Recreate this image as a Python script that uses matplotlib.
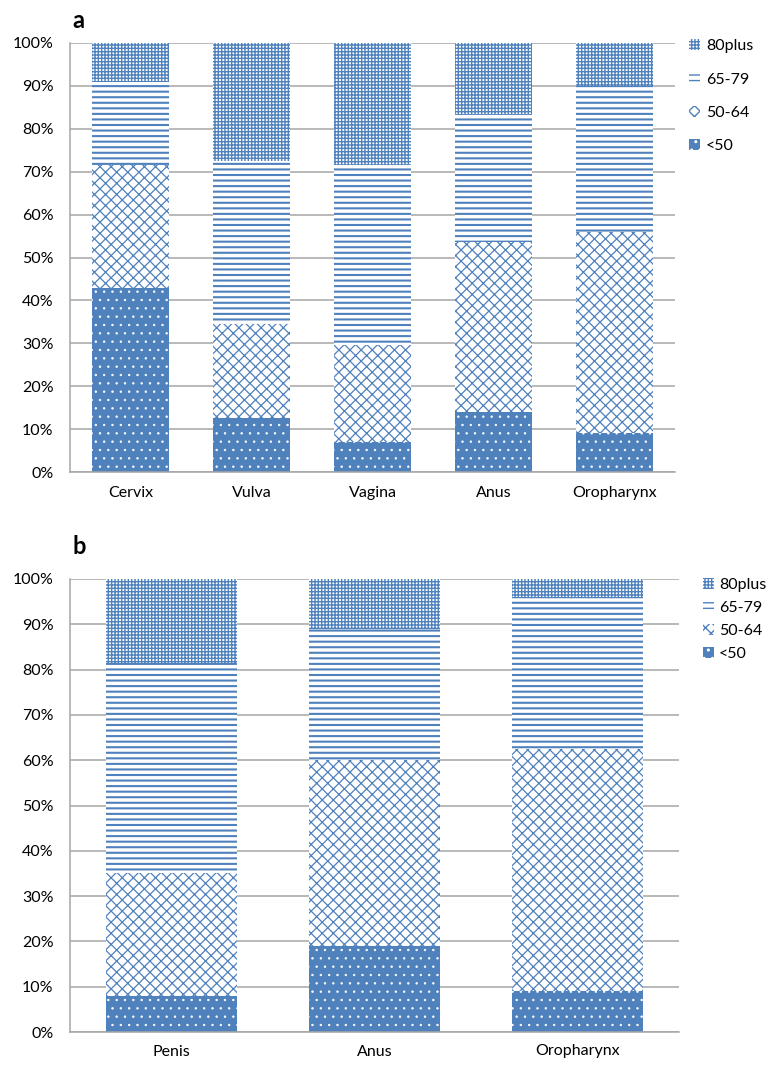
import numpy as np
import matplotlib
matplotlib.use('Agg')
import matplotlib.pyplot as plt
from matplotlib.ticker import PercentFormatter

plt.rcParams['font.family'] = ['Lato', 'DejaVu Sans']

age_groups = ['<50', '50-64', '65-79', '80plus']

# panel a - women
sites_a = ['Cervix', 'Vulva', 'Vagina', 'Anus', 'Oropharynx']
lt50_a = [43, 12.5, 7, 14, 9]
a50_64_a = [28.5, 22, 22.5, 39.5, 47]
a65_79_a = [19.5, 38, 42, 30, 34]
a80plus_a = [9, 27.5, 28.5, 16.5, 10]

# panel b - men
sites_b = ['Penis', 'Anus', 'Oropharynx']
lt50_b = [8, 19, 9]
a50_64_b = [27, 41, 53.5]
a65_79_b = [46.5, 29, 33.5]
a80plus_b = [18.5, 11, 4]

blue = '#4F81BD'
# (style, hatch line width) for each age group
styles = [
    (dict(facecolor=blue, edgecolor='white', hatch='..'), 0.5),
    (dict(facecolor='white', edgecolor=blue, hatch='xxx'), 0.9),
    (dict(facecolor='white', edgecolor=blue, hatch='---'), 1.5),
    (dict(facecolor='white', edgecolor=blue, hatch='+++++'), 1.0),
]


def stacked(ax, sites, series, width):
    x = np.arange(len(sites))
    bottom = np.zeros(len(sites))
    handles = []
    for name, vals, (st, hlw) in zip(age_groups, series, styles):
        vals = np.array(vals, dtype=float)
        with plt.rc_context({'hatch.linewidth': hlw}):
            h = ax.bar(x, vals, width, bottom=bottom, label=name, linewidth=0, **st)
        handles.append(h)
        bottom += vals
    ax.set_xlim(-0.5, len(sites) - 0.5)
    ax.set_ylim(0, 100)
    ax.set_yticks(np.arange(0, 101, 10))
    ax.yaxis.set_major_formatter(PercentFormatter(decimals=0))
    ax.set_xticks(x)
    ax.set_xticklabels(sites)
    ax.grid(axis='y', color='#A6A6A6', linewidth=1.1)
    ax.set_axisbelow(True)
    for s in ['top', 'right']:
        ax.spines[s].set_visible(False)
    for s in ['left', 'bottom']:
        ax.spines[s].set_color('#A6A6A6')
        ax.spines[s].set_linewidth(1.1)
    ax.tick_params(axis='y', length=0, pad=12, labelsize=11.5)
    ax.tick_params(axis='x', length=0, pad=10, labelsize=11.5)
    return handles


fig = plt.figure(figsize=(7.73, 10.70), dpi=100)

ax1 = fig.add_axes([70 / 773, 1 - 472 / 1070, 605 / 773, 429 / 1070])
h1 = stacked(ax1, sites_a, [lt50_a, a50_64_a, a65_79_a, a80plus_a], 0.64)
ax1.legend(h1[::-1], age_groups[::-1], loc='upper left', frameon=False,
           bbox_to_anchor=(689 / 773, 1 - 39 / 1070), bbox_transform=fig.transFigure,
           fontsize=11.5, handlelength=0.7, handleheight=0.7, handletextpad=0.35,
           labelspacing=1.2, borderpad=0, borderaxespad=0)

ax2 = fig.add_axes([70 / 773, 1 - 1032 / 1070, 609 / 773, 453 / 1070])
h2 = stacked(ax2, sites_b, [lt50_b, a50_64_b, a65_79_b, a80plus_b], 0.645)
ax2.tick_params(axis='x', pad=9)
ax2.legend(h2[::-1], age_groups[::-1], loc='upper left', frameon=False,
           bbox_to_anchor=(703 / 773, 1 - 578 / 1070), bbox_transform=fig.transFigure,
           fontsize=11.5, handlelength=0.7, handleheight=0.7, handletextpad=0.3,
           labelspacing=0.55, borderpad=0, borderaxespad=0)

fig.text(72 / 773, 1 - 21 / 1070, 'a', fontsize=17, fontweight='bold', va='center', ha='left')
fig.text(72 / 773, 1 - 547 / 1070, 'b', fontsize=17, fontweight='bold', va='center', ha='left')

fig.savefig('out.png', dpi=100)
